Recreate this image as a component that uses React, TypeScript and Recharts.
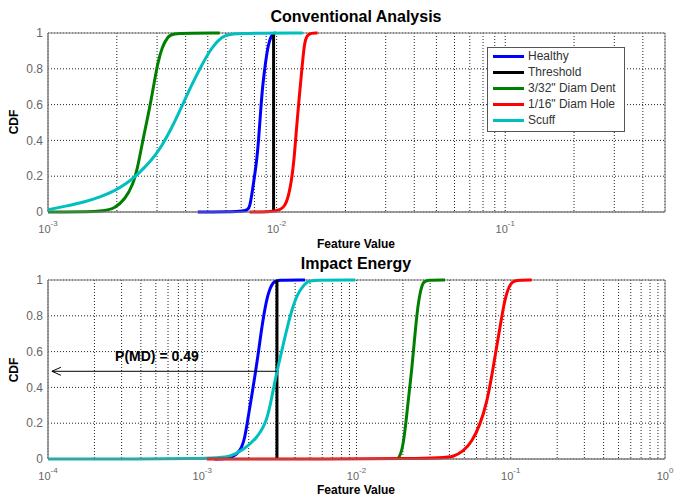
import React from 'react';
import {
  LineChart,
  Line,
  XAxis,
  YAxis,
  CartesianGrid,
  ReferenceArea,
  ReferenceLine,
  Legend,
} from 'recharts';

// CDF curves, [feature value, cdf]
const HEALTHY_CONV = [[0.00452, 0], [0.0074, 0], [0.00763, 0.022], [0.00786, 0.13], [0.00818, 0.28], [0.00835, 0.41], [0.00851, 0.56], [0.00869, 0.71], [0.00895, 0.84], [0.00923, 0.95], [0.00961, 1], [0.0099, 1]];
const DENT_CONV = [[0.001, 0], [0.00177, 0], [0.00196, 0.022], [0.00217, 0.07], [0.00235, 0.15], [0.00247, 0.25], [0.00257, 0.37], [0.00271, 0.51], [0.00282, 0.62], [0.00293, 0.74], [0.00302, 0.83], [0.00315, 0.92], [0.00334, 0.98], [0.00352, 1], [0.00564, 1]];
const HOLE_CONV = [[0.00762, 0], [0.0103, 0], [0.01106, 0.04], [0.01163, 0.17], [0.01198, 0.32], [0.01222, 0.47], [0.0126, 0.66], [0.01299, 0.84], [0.01325, 0.95], [0.01366, 1], [0.0151, 1]];
const SCUFF_CONV = [[0.001, 0.013], [0.00119, 0.032], [0.00145, 0.056], [0.00172, 0.088], [0.00196, 0.118], [0.00224, 0.165], [0.00247, 0.21], [0.00285, 0.29], [0.00315, 0.37], [0.00348, 0.47], [0.00385, 0.59], [0.00425, 0.71], [0.0047, 0.82], [0.0052, 0.92], [0.00575, 0.98], [0.00636, 1], [0.013, 1]];
const THRESH_CONV = 0.0097;

const HEALTHY_IE = [[0.0012, 0], [0.00145, 0], [0.00158, 0.013], [0.00176, 0.04], [0.00189, 0.115], [0.00198, 0.23], [0.0021, 0.36], [0.0022, 0.47], [0.0023, 0.58], [0.0024, 0.7], [0.00251, 0.81], [0.00267, 0.93], [0.00288, 0.99], [0.00305, 1], [0.00464, 1]];
const DENT_IE = [[0.0186, 0], [0.0197, 0.04], [0.0206, 0.15], [0.0216, 0.32], [0.0229, 0.51], [0.0239, 0.69], [0.0247, 0.82], [0.0258, 0.93], [0.027, 0.99], [0.0286, 1], [0.0375, 1]];
const HOLE_IE = [[0.00107, 0], [0.0364, 0], [0.0422, 0.013], [0.049, 0.04], [0.0561, 0.097], [0.0632, 0.19], [0.0702, 0.32], [0.0756, 0.47], [0.0814, 0.64], [0.0865, 0.77], [0.0918, 0.9], [0.0989, 0.98], [0.1066, 1], [0.137, 1]];
const SCUFF_IE = [[0.0001, 0], [0.00125, 0], [0.00151, 0.013], [0.00184, 0.05], [0.00226, 0.115], [0.00263, 0.21], [0.00283, 0.35], [0.00305, 0.49], [0.00329, 0.61], [0.00354, 0.73], [0.00388, 0.86], [0.0043, 0.95], [0.00485, 0.995], [0.00522, 1], [0.0098, 1]];
const THRESH_IE = 0.00305;
const P_MD = 0.49;
const ARROW_END = 0.000106;

const TOP_TICKS = [0.001, 0.002, 0.003, 0.004, 0.005, 0.006, 0.007, 0.008, 0.009, 0.01, 0.02, 0.03, 0.04, 0.05, 0.06, 0.07, 0.08, 0.09, 0.1, 0.2, 0.3, 0.4, 0.5];
const BOTTOM_TICKS = [0.0001, 0.0002, 0.0003, 0.0004, 0.0005, 0.0006, 0.0007, 0.0008, 0.0009, 0.001, 0.002, 0.003, 0.004, 0.005, 0.006, 0.007, 0.008, 0.009, 0.01, 0.02, 0.03, 0.04, 0.05, 0.06, 0.07, 0.08, 0.09, 0.1, 0.2, 0.3, 0.4, 0.5, 0.6, 0.7, 0.8, 0.9, 1];
const Y_TICKS = [0, 0.2, 0.4, 0.6, 0.8, 1];

const COLORS = {
  healthy: '#0000ff',
  threshold: '#000000',
  dent: '#008000',
  hole: '#ff0000',
  scuff: '#00bfbf',
};

const LEGEND_ITEMS = [
  { label: 'Healthy', color: COLORS.healthy },
  { label: 'Threshold', color: COLORS.threshold },
  { label: '3/32" Diam Dent', color: COLORS.dent },
  { label: '1/16" Diam Hole', color: COLORS.hole },
  { label: 'Scuff', color: COLORS.scuff },
];

const FONT = '"Liberation Sans", Arial, sans-serif';

const toPoints = (arr: number[][]) => arr.map(([x, y]) => ({ x, y }));
const vertical = (x: number) => [{ x, y: 0 }, { x, y: 1 }];

// only label the decades, MATLAB style 10^n
const LogTick = (props: any) => {
  const { x, y, payload } = props;
  const p = Math.log10(payload.value);
  const e = Math.round(p);
  if (Math.abs(p - e) > 1e-6) return <g />;
  return (
    <text x={x} y={y} textAnchor="middle" fill="#666" fontSize={11} fontFamily={FONT}>
      <tspan dy={13}>10</tspan>
      <tspan fontSize={8} dy={-7}>{e}</tspan>
    </text>
  );
};

const renderLegend = () => (
  <div
    style={{
      border: '1px solid #555',
      background: '#fff',
      width: 138,
      height: 85,
      boxSizing: 'border-box',
      fontFamily: FONT,
      fontSize: 12,
      color: '#333',
    }}
  >
    {LEGEND_ITEMS.map((item) => (
      <div key={item.label} style={{ height: 16, display: 'flex', alignItems: 'center' }}>
        <div style={{ width: 31, height: 3, background: item.color, marginLeft: 5, marginRight: 4 }} />
        <span style={{ whiteSpace: 'nowrap', lineHeight: '16px' }}>{item.label}</span>
      </div>
    ))}
  </div>
);

const arrowShape = (props: any) => {
  const { x1, y1, x2 } = props;
  const left = Math.min(x1, x2);
  const right = Math.max(x1, x2);
  return (
    <g>
      <line x1={left} y1={y1} x2={right} y2={y1} stroke="#000" strokeWidth={1} />
      <polyline
        points={`${left + 9},${y1 - 4} ${left},${y1} ${left + 9},${y1 + 4}`}
        fill="none"
        stroke="#000"
        strokeWidth={1}
      />
      <text x={left + 105} y={y1 - 10} textAnchor="middle" fontSize={14} fontWeight="bold" fontFamily={FONT} fill="#000">
        P(MD) = {P_MD}
      </text>
    </g>
  );
};

interface PanelProps {
  domain: [number, number];
  ticks: number[];
  healthy: number[][];
  dent: number[][];
  hole: number[][];
  scuff: number[][];
  threshold: number;
  marginTop: number;
  axisHeight: number;
  children?: React.ReactNode;
}

function CdfPanel({ domain, ticks, healthy, dent, hole, scuff, threshold, marginTop, axisHeight, children }: PanelProps) {
  return (
    <LineChart width={674} height={248} margin={{ top: marginTop, right: 9, left: 8, bottom: 0 }}>
      <CartesianGrid stroke="#222" strokeDasharray="1 2" />
      <XAxis
        type="number"
        dataKey="x"
        scale="log"
        domain={domain}
        ticks={ticks}
        allowDataOverflow
        interval={0}
        height={axisHeight}
        tick={<LogTick />}
        tickLine={false}
        axisLine={{ stroke: '#808080' }}
      />
      <YAxis
        type="number"
        domain={[0, 1]}
        ticks={Y_TICKS}
        width={40}
        tickSize={3}
        tickLine={false}
        axisLine={{ stroke: '#808080' }}
        tick={{ fill: '#666', fontSize: 12, fontFamily: FONT }}
      />
      <ReferenceArea x1={domain[0]} x2={domain[1]} y1={0} y2={1} fill="none" fillOpacity={0} stroke="#808080" strokeWidth={1} />
      <Line data={toPoints(healthy)} dataKey="y" type="basis" stroke={COLORS.healthy} strokeWidth={3} dot={false} isAnimationActive={false} />
      <Line data={vertical(threshold)} dataKey="y" type="linear" stroke={COLORS.threshold} strokeWidth={3} dot={false} isAnimationActive={false} />
      <Line data={toPoints(dent)} dataKey="y" type="basis" stroke={COLORS.dent} strokeWidth={3} dot={false} isAnimationActive={false} />
      <Line data={toPoints(scuff)} dataKey="y" type="basis" stroke={COLORS.scuff} strokeWidth={3} dot={false} isAnimationActive={false} />
      <Line data={toPoints(hole)} dataKey="y" type="basis" stroke={COLORS.hole} strokeWidth={3} dot={false} isAnimationActive={false} />
      {children}
    </LineChart>
  );
}

const textStyle: React.CSSProperties = {
  position: 'absolute',
  fontFamily: FONT,
  fontWeight: 'bold',
  color: '#000',
  whiteSpace: 'nowrap',
  transform: 'translate(-50%, -50%)',
  lineHeight: 1,
};

export default function App() {
  return (
    <div style={{ position: 'absolute', left: 0, top: 0, width: 674, height: 496, background: '#fff', overflow: 'hidden' }}>
      <div style={{ position: 'absolute', left: 0, top: 0 }}>
        <CdfPanel
          domain={[0.001, 0.5]}
          ticks={TOP_TICKS}
          healthy={HEALTHY_CONV}
          dent={DENT_CONV}
          hole={HOLE_CONV}
          scuff={SCUFF_CONV}
          threshold={THRESH_CONV}
          marginTop={33}
          axisHeight={36}
        >
          <Legend
            layout="horizontal"
            verticalAlign="middle"
            align="center"
            content={renderLegend}
            wrapperStyle={{ top: 47, left: 487, width: 138, height: 85 }}
          />
        </CdfPanel>
      </div>
      <div style={{ position: 'absolute', left: 0, top: 248 }}>
        <CdfPanel
          domain={[0.0001, 1]}
          ticks={BOTTOM_TICKS}
          healthy={HEALTHY_IE}
          dent={DENT_IE}
          hole={HOLE_IE}
          scuff={SCUFF_IE}
          threshold={THRESH_IE}
          marginTop={32}
          axisHeight={37}
        >
          <ReferenceLine
            segment={[{ x: ARROW_END, y: P_MD }, { x: THRESH_IE, y: P_MD }]}
            shape={arrowShape}
          />
        </CdfPanel>
      </div>

      {/* titles and axis labels */}
      <div style={{ ...textStyle, left: 356, top: 17, fontSize: 16 }}>Conventional Analysis</div>
      <div style={{ ...textStyle, left: 356, top: 244, fontSize: 12 }}>Feature Value</div>
      <div style={{ ...textStyle, left: 356, top: 264, fontSize: 16 }}>Impact Energy</div>
      <div style={{ ...textStyle, left: 356, top: 490, fontSize: 12 }}>Feature Value</div>
      <div style={{ ...textStyle, left: 14, top: 122, fontSize: 12, transform: 'translate(-50%, -50%) rotate(-90deg)' }}>CDF</div>
      <div style={{ ...textStyle, left: 14, top: 370, fontSize: 12, transform: 'translate(-50%, -50%) rotate(-90deg)' }}>CDF</div>
    </div>
  );
}
